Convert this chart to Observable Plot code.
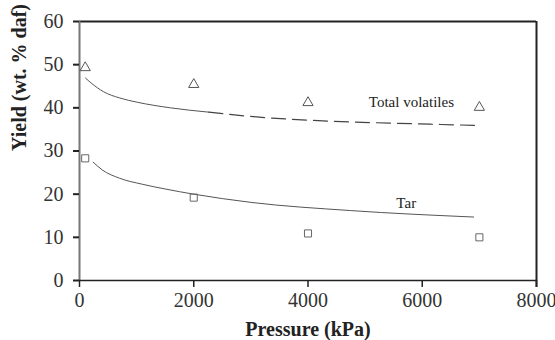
<!DOCTYPE html>
<html>
<head>
<meta charset="utf-8">
<script src="https://cdn.jsdelivr.net/npm/d3@7"></script>
<script src="https://cdn.jsdelivr.net/npm/@observablehq/plot@0.6"></script>
<style>
  html, body { margin: 0; padding: 0; background: #fff; }
  #chart { width: 555px; height: 340px; }
</style>
</head>
<body>
<div id="chart"></div>
<script>
// Measured data (kPa, wt. % daf)
const pressures = [100, 2000, 4000, 7000];
const totalVolatiles = [49.3, 45.4, 41.2, 40.1];
const tarYield = [28.3, 19.2, 10.9, 10.0];

// Fitted curves
const fitTotalP = [105, 200, 425, 700, 1010, 1593, 2264, 3000, 4400, 5900, 7000];
const fitTotalY = [46.9, 45.8, 43.7, 42.3, 41.3, 40.0, 39.0, 38.0, 36.9, 36.3, 35.9];
const fitTarP = [240, 400, 700, 1100, 1500, 2000, 3000, 4744, 6900];
const fitTarY = [27.4, 25.6, 23.7, 22.3, 21.2, 20.0, 18.1, 16.2, 14.7];

// Axis ticks
const xTicks = [0, 2000, 4000, 6000, 8000];
const yTicks = [0, 10, 20, 30, 40, 50, 60];

// Curve labels
const labelText = ["Total volatiles", "Tar"];
const labelP = [5810, 5720];
const labelY = [41.2, 17.9];

const points = (xs, ys) => xs.map((x, i) => ({x, y: ys[i]}));
const totalPts = points(pressures, totalVolatiles);
const tarPts = points(pressures, tarYield);
const fitTotal = points(fitTotalP, fitTotalY);
const fitTotalSolid = fitTotal.filter(d => d.x <= 2264);
const fitTotalDash = fitTotal.filter(d => d.x >= 2264);
const fitTar = points(fitTarP, fitTarY);
const labels = labelText.map((t, i) => ({t, x: labelP[i], y: labelY[i]}));

const serif = "'Liberation Serif', 'DejaVu Serif', serif";

const chart = Plot.plot({
  width: 555,
  height: 340,
  marginLeft: 79,
  marginRight: 19,
  marginTop: 21,
  marginBottom: 60,
  style: {fontFamily: serif, background: "#fff", color: "#333"},
  x: {domain: [0, 8000], axis: null},
  y: {domain: [0, 60], axis: null},
  marks: [
    // frame: top and right dark lines
    Plot.ruleY([60], {stroke: "#222", strokeWidth: 2}),
    Plot.ruleX([8000], {y1: -1.6, y2: 60, stroke: "#222", strokeWidth: 2}),
    // left axis line (grayish)
    Plot.ruleX([0], {stroke: "#777", strokeWidth: 2}),
    // bottom axis line
    Plot.ruleY([0], {stroke: "#222", strokeWidth: 1.5}),
    Plot.axisX(xTicks, {
      tickSize: 7, tickPadding: 5, fontSize: 20, stroke: "#222",
      strokeWidth: 1.5, tickFormat: d => String(d), color: "#333",
      label: null
    }),
    Plot.axisY(yTicks, {
      tickSize: 6, tickPadding: 10, fontSize: 20, stroke: "#222",
      strokeWidth: 2, tickFormat: d => String(d), label: null
    }),
    // fitted curves
    Plot.line(fitTotalSolid, {x: "x", y: "y", curve: "monotone-x", stroke: "#555", strokeWidth: 1}),
    Plot.line(fitTotalDash, {x: "x", y: "y", curve: "monotone-x", stroke: "#444", strokeWidth: 1.2, strokeDasharray: "14,7"}),
    Plot.line(fitTar, {x: "x", y: "y", curve: "monotone-x", stroke: "#555", strokeWidth: 1}),
    // data points
    Plot.dot(totalPts, {x: "x", y: "y", symbol: "triangle", r: 3.8, stroke: "#555", fill: "none", strokeWidth: 1}),
    Plot.dot(tarPts, {x: "x", y: "y", symbol: "square", r: 4, stroke: "#666", fill: "none", strokeWidth: 1}),
    // labels
    Plot.text(labels, {x: "x", y: "y", text: "t", fontSize: 15, fill: "#222", fontFamily: serif}),
    // axis titles
    Plot.text(["Pressure (kPa)"], {frameAnchor: "bottom", dy: 55, fontSize: 20, fontWeight: "bold", fill: "#222", fontFamily: serif}),
    Plot.text(["Yield (wt. % daf)"], {frameAnchor: "left", dx: -60, rotate: -90, fontSize: 20, fontWeight: "bold", fill: "#222", fontFamily: serif})
  ]
});
document.getElementById("chart").appendChild(chart);
</script>
</body>
</html>
